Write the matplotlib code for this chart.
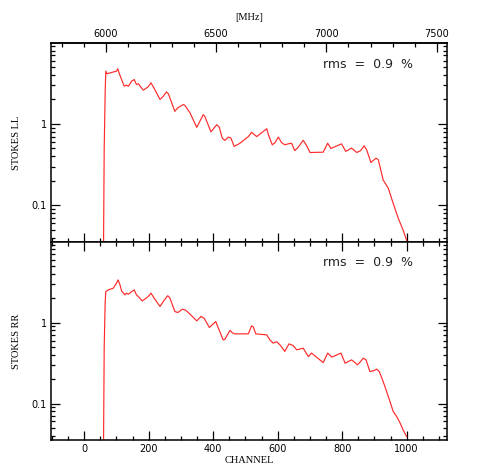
import matplotlib
matplotlib.use("Agg")
import matplotlib.pyplot as plt
from matplotlib.ticker import MultipleLocator, LogLocator, NullFormatter, FixedLocator, FixedFormatter

# ---------------- data ----------------
ll_channel = [59, 62, 65, 67, 71, 85, 100, 104, 109, 116, 124, 131, 137, 147, 155, 162, 168,
              183, 198, 207, 219, 235, 245, 255, 261, 281, 290, 307, 312, 328, 349, 369, 374,
              393, 411, 419, 428, 436, 447, 455, 465, 483, 509, 519, 524, 535, 566, 571, 583,
              592, 602, 612, 622, 633, 643, 653, 664, 679, 690, 700, 741, 755, 765, 798, 811,
              829, 845, 857, 868, 876, 889, 905, 912, 927, 943, 958, 974, 989, 1000]
ll_value = [0.01, 0.5, 2.5, 4.46, 4.14, 4.3, 4.46, 4.78, 4.14, 3.52, 2.91, 3.0, 2.91, 3.36,
            3.52, 3.06, 3.12, 2.60, 2.86, 3.21, 2.65, 2.0, 2.19, 2.48, 2.35, 1.43, 1.58, 1.73,
            1.70, 1.37, 0.908, 1.30, 1.24, 0.80, 0.98, 0.91, 0.67, 0.628, 0.69, 0.67, 0.53,
            0.58, 0.70, 0.79, 0.76, 0.70, 0.875, 0.74, 0.555, 0.59, 0.69, 0.59, 0.555, 0.57,
            0.58, 0.47, 0.52, 0.63, 0.54, 0.446, 0.45, 0.58, 0.50, 0.57, 0.46, 0.506, 0.446,
            0.47, 0.54, 0.48, 0.336, 0.38, 0.363, 0.205, 0.162, 0.106, 0.069, 0.0495, 0.037]

rr_channel = [59, 62, 65, 67, 74, 90, 100, 105, 111, 116, 126, 131, 137, 147, 155, 162, 168,
              180, 198, 207, 217, 235, 245, 259, 266, 281, 290, 304, 314, 328, 349, 362, 372,
              388, 408, 416, 431, 436, 452, 459, 467, 509, 519, 524, 532, 566, 576, 586, 597,
              607, 622, 635, 648, 659, 679, 695, 705, 741, 755, 768, 796, 809, 819, 829, 840,
              847, 857, 865, 874, 886, 899, 907, 915, 927, 943, 958, 969, 979, 989, 1000]
rr_value = [0.01, 0.5, 1.8, 2.41, 2.53, 2.66, 3.06, 3.37, 2.92, 2.46, 2.20, 2.31, 2.24, 2.41,
            2.53, 2.20, 2.09, 1.85, 2.09, 2.31, 2.0, 1.58, 1.82, 2.15, 2.0, 1.37, 1.33, 1.46,
            1.43, 1.27, 1.05, 1.19, 1.13, 0.87, 1.03, 0.853, 0.61, 0.62, 0.80, 0.75, 0.725,
            0.725, 0.91, 0.89, 0.725, 0.705, 0.61, 0.557, 0.58, 0.53, 0.44, 0.546, 0.52, 0.46,
            0.483, 0.38, 0.42, 0.32, 0.42, 0.374, 0.42, 0.315, 0.33, 0.346, 0.32, 0.30, 0.33,
            0.363, 0.346, 0.248, 0.255, 0.266, 0.248, 0.187, 0.122, 0.080, 0.069, 0.058,
            0.047, 0.039]

panel_labels = ["STOKES LL", "STOKES RR"]
rms_text = "rms  =  0.9  %"
x_ticks = [0, 200, 400, 600, 800, 1000]
mhz_ticks = [6000, 6500, 7000, 7500]

# channel -> frequency conversion
F0 = 5901.6
DF = 1.4624


def ch2f(c):
    return F0 + DF * c


def f2ch(f):
    return (f - F0) / DF


# ---------------- figure ----------------
fig = plt.figure(figsize=(4.91, 4.69), dpi=100)
left, width = 51 / 491, 396 / 491
ax1 = fig.add_axes([left, 1 - 242 / 469, width, 199 / 469])
ax2 = fig.add_axes([left, 1 - 440 / 469, width, 198 / 469])

serif = "Liberation Serif"
tick_fs = 7

for ax, chan, val, lab in [(ax1, ll_channel, ll_value, panel_labels[0]),
                           (ax2, rr_channel, rr_value, panel_labels[1])]:
    ax.plot(chan, val, color="#ff2a2a", lw=0.85)
    ax.set_yscale("log")
    ax.set_xlim(-103, 1125)
    ax.set_ylim(0.0354, 9.9)
    ax.yaxis.set_major_locator(FixedLocator([0.1, 1]))
    ax.yaxis.set_major_formatter(FixedFormatter(["0.1", "1"]))
    ax.yaxis.set_minor_locator(LogLocator(base=10, subs=range(2, 10)))
    ax.yaxis.set_minor_formatter(NullFormatter())
    ax.xaxis.set_major_locator(FixedLocator(x_ticks))
    ax.xaxis.set_minor_locator(MultipleLocator(50))
    for s in ax.spines.values():
        s.set_linewidth(1.1)
    ax.tick_params(which="both", direction="in", left=True, right=True,
                   labelsize=tick_fs, width=0.9, pad=3)
    ax.tick_params(which="major", length=6.5)
    ax.tick_params(which="minor", length=3)
    ax.set_ylabel(lab, family=serif, fontsize=7.5, labelpad=8)
    ax.text(0.687, 0.894, rms_text, transform=ax.transAxes, fontsize=9,
            ha="left", va="center", color="#222222")

ax1.tick_params(which="both", top=False, bottom=True, labelbottom=False)
ax2.tick_params(which="both", top=True, bottom=True, labelbottom=True)
ax1.yaxis.set_label_coords(-0.077, 0.5)
ax2.yaxis.set_label_coords(-0.077, 0.5)

ax2.set_xticklabels([str(t) for t in x_ticks])
ax2.set_xlabel("CHANNEL", family=serif, fontsize=7.5, labelpad=1)

sec = ax1.secondary_xaxis("top", functions=(ch2f, f2ch))
sec.xaxis.set_major_locator(FixedLocator(mhz_ticks))
sec.xaxis.set_major_formatter(FixedFormatter([str(t) for t in mhz_ticks]))
sec.xaxis.set_minor_locator(MultipleLocator(100))
sec.tick_params(which="both", direction="in", labelsize=tick_fs, width=0.9, pad=3)
sec.tick_params(which="major", length=6.5)
sec.tick_params(which="minor", length=3)
sec.spines["top"].set_linewidth(1.1)
sec.set_xlabel("[MHz]", family=serif, fontsize=7.5, labelpad=6)

fig.savefig("out.png", dpi=100)
